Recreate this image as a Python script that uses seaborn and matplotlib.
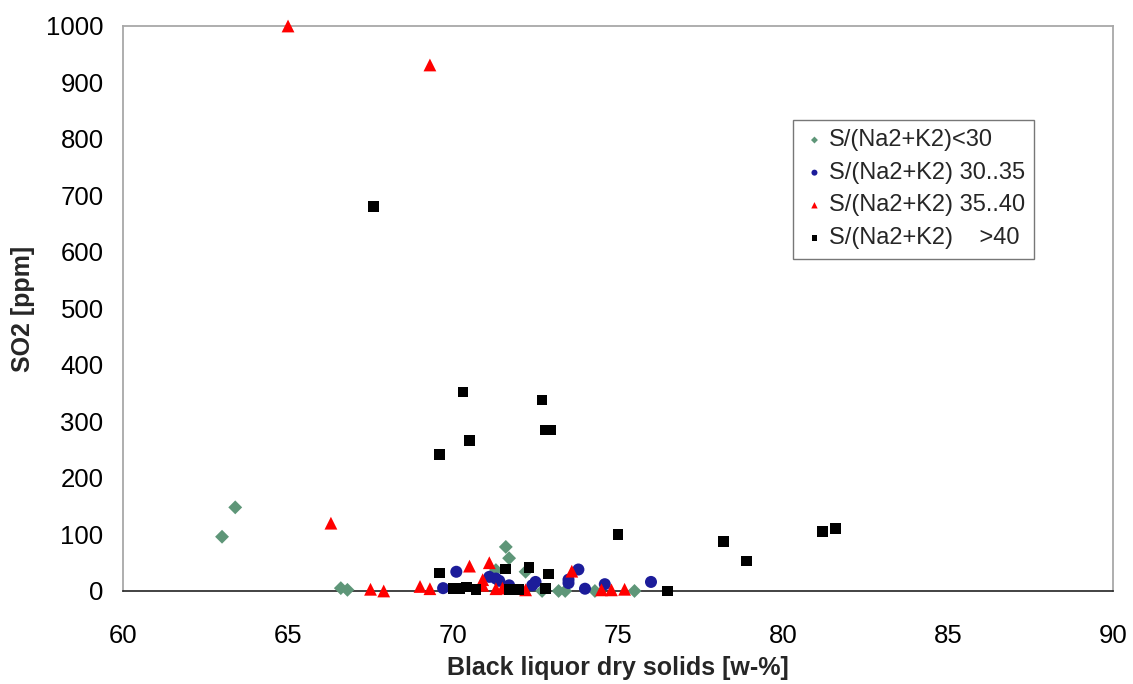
import seaborn as sns
import pandas as pd
import matplotlib.pyplot as plt

# S/(Na2+K2) < 30
green_x = [63.0, 63.4, 66.6, 66.8, 71.3, 71.6, 71.7, 72.2, 72.7, 73.2, 73.4, 74.3, 75.5]
green_y = [96, 148, 5, 2, 37, 78, 58, 34, 0, 0, 0, 0, 0]
# S/(Na2+K2) 30..35
blue_x = [69.7, 70.1, 71.1, 71.3, 71.4, 71.7, 72.4, 72.5, 73.5, 73.5, 73.8, 74.0, 74.6, 76.0]
blue_y = [5, 34, 25, 22, 18, 10, 10, 16, 20, 14, 38, 4, 12, 16]
# S/(Na2+K2) 35..40
red_x = [65.0, 69.3, 66.3, 67.5, 67.9, 69.0, 69.3, 70.5, 71.1, 70.9, 70.9, 71.3, 71.5, 72.2, 73.6, 74.5, 74.8, 75.2]
red_y = [1000, 931, 120, 3, 0, 8, 4, 44, 50, 20, 10, 4, 5, 2, 35, 2, 2, 3]
# S/(Na2+K2) > 40
black_x = [67.6, 70.3, 72.7, 70.5, 72.8, 72.95, 69.6, 69.6, 70.0, 70.2, 70.4, 70.7, 71.6, 71.7,
           72.0, 72.3, 72.9, 72.8, 75.0, 76.5, 78.2, 78.9, 81.2, 81.6]
black_y = [680, 352, 338, 267, 285, 285, 241, 32, 4, 5, 7, 3, 39, 2,
           3, 41, 30, 5, 100, 0, 88, 53, 105, 110]

labels = ['S/(Na2+K2)<30', 'S/(Na2+K2) 30..35', 'S/(Na2+K2) 35..40', 'S/(Na2+K2)    >40']
groups = [(green_x, green_y), (blue_x, blue_y), (red_x, red_y), (black_x, black_y)]
colors = ['#5e9678', '#1c1c9a', '#ff0000', '#000000']
markers = ['D', 'o', '^', 's']
sizes = [50, 75, 85, 60]

sns.set_style('white')
plt.rcParams['font.family'] = ['Liberation Sans', 'DejaVu Sans']

fig = plt.figure(figsize=(11.33, 6.84), dpi=100)
ax = fig.add_axes([0.1086, 0.136, 0.8737, 0.826])

for (xs, ys), lab, c, m, s in zip(groups, labels, colors, markers, sizes):
    df = pd.DataFrame({'x': xs, 'y': ys})
    sns.scatterplot(data=df, x='x', y='y', color=c, marker=m, s=s, edgecolor='none',
                    label=lab, ax=ax, zorder=3, clip_on=False)

ax.set_xlim(60, 90)
ax.set_ylim(0, 1000)
ax.set_xticks(range(60, 91, 5))
ax.set_yticks(range(0, 1001, 100))
ax.tick_params(axis='both', labelsize=18.5, direction='inout', colors='#000000')
ax.tick_params(axis='y', length=14, width=1.0, pad=7)
ax.tick_params(axis='x', length=11, width=1.0, pad=18)

for side in ['left', 'top', 'right']:
    ax.spines[side].set_color('#a8a8a8')
    ax.spines[side].set_linewidth(1.3)
ax.spines['bottom'].set_color('#222222')
ax.spines['bottom'].set_linewidth(1.2)

ax.set_xlabel('Black liquor dry solids [w-%]', fontsize=18, fontweight='bold', labelpad=6)
ax.set_ylabel('SO2 [ppm]', fontsize=18, fontweight='bold', labelpad=8)

leg = ax.legend(loc='upper left', bbox_to_anchor=(0.677, 0.834), borderaxespad=0,
                fontsize=17, markerscale=0.5, handletextpad=0.1, handlelength=1.0,
                labelspacing=0.45, fancybox=False, frameon=True, borderpad=0.4)
leg.get_frame().set_edgecolor('#555555')
leg.get_frame().set_linewidth(1.0)

fig.savefig('out.png', facecolor='white')
